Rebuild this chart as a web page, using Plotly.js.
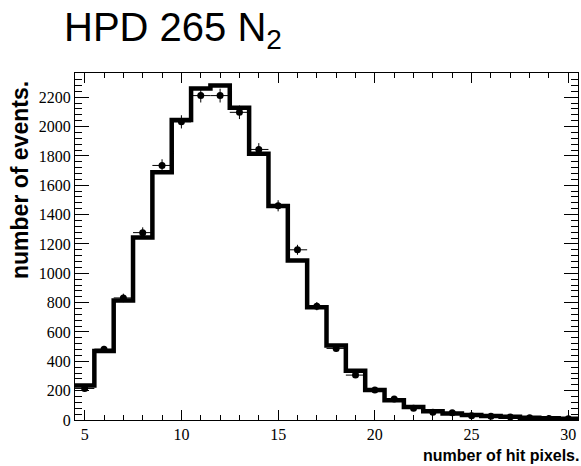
<!DOCTYPE html>
<html>
<head>
<meta charset="utf-8">
<script src="https://cdn.plot.ly/plotly-3.0.1.min.js"></script>
<style>html,body{margin:0;padding:0;background:#fff;}#chart{width:581px;height:466px;}</style>
</head>
<body>
<div id="chart"></div>
<script>
// Number of hit pixels (bin centres)
const hitPixels = [5,6,7,8,9,10,11,12,13,14,15,16,17,18,19,20,21,22,23,24,25,26,27,28,29,30];
// Simulated histogram (thick step line)
const simCounts = [235,470,815,1243,1688,2044,2260,2280,2128,1814,1458,1087,768,508,336,204,134,89,60,44,34,28,22,16,12,9];
// Measured data points
const dataCounts = [215,483,832,1277,1735,2032,2211,2211,2097,1844,1460,1160,776,488,306,204,143,80,52,49,29,26,21,15,10,8];
// Vertical error bars of the data points
const dataErrors = [15,22,29,36,42,45,47,47,46,43,38,34,28,22,18,14,12,9,7,7,5,5,5,4,3,3];

const yTickVals = [0,200,400,600,800,1000,1200,1400,1600,1800,2000,2200];
const xTickVals = [5,10,15,20,25,30];

// step-line edges built from the bin centres
const stepX = hitPixels.map(v => v - 0.5).concat([hitPixels[hitPixels.length-1] + 0.5]);
const stepY = simCounts.concat([simCounts[simCounts.length-1]]);

const traces = [
  {
    x: stepX, y: stepY, type: 'scatter', mode: 'lines',
    line: {shape: 'hv', color: '#000', width: 4.5},
    hoverinfo: 'skip', showlegend: false
  },
  {
    x: hitPixels, y: dataCounts, type: 'scatter', mode: 'markers',
    marker: {color: '#000', size: 7},
    error_y: {type: 'data', array: dataErrors, visible: true, color: '#000', thickness: 1, width: 0},
    error_x: {type: 'constant', value: 0.5, visible: true, color: '#000', thickness: 1, width: 0},
    showlegend: false
  }
];

const SERIF = 'Liberation Serif, Times New Roman, DejaVu Serif, serif';
const SANS = 'Arial, Liberation Sans, sans-serif';

const layout = {
  width: 581, height: 466,
  margin: {l: 75, r: 3, t: 73, b: 46},
  paper_bgcolor: '#fff', plot_bgcolor: '#fff',
  font: {family: SERIF, size: 16, color: '#000'},
  title: {
    text: 'HPD 265 N<sub>2</sub>',
    font: {family: SANS, size: 40, color: '#000'},
    xref: 'container', x: 64/581, xanchor: 'left',
    yref: 'container', y: 1 - 27/466, yanchor: 'middle'
  },
  xaxis: {
    range: [4.5, 30.5], showgrid: false, zeroline: false,
    showline: true, linecolor: '#000', linewidth: 1, mirror: 'allticks',
    ticks: 'inside', ticklen: 10, tickwidth: 1, tickcolor: '#000',
    tickvals: xTickVals, ticktext: xTickVals.map(String),
    tickfont: {family: SERIF, size: 16, color: '#000'},
    minor: {dtick: 1, tick0: 0, ticks: 'inside', ticklen: 5, tickwidth: 1, tickcolor: '#000', showgrid: false}
  },
  yaxis: {
    range: [0, 2365], showgrid: false, zeroline: false,
    showline: true, linecolor: '#000', linewidth: 1, mirror: 'allticks',
    ticks: 'inside', ticklen: 14, tickwidth: 1, tickcolor: '#000',
    tickvals: yTickVals, ticktext: yTickVals.map(String),
    tickfont: {family: SERIF, size: 16, color: '#000'},
    minor: {dtick: 40, tick0: 0, ticks: 'inside', ticklen: 7, tickwidth: 1, tickcolor: '#000', showgrid: false}
  },
  annotations: [
    {
      text: '<b>number of events.</b>', textangle: -90,
      xref: 'paper', yref: 'paper', x: (20-75)/503, y: (420-180)/347,
      xanchor: 'center', yanchor: 'middle', showarrow: false,
      font: {family: SANS, size: 23, color: '#000'}
    },
    {
      text: '<b>number of hit pixels.</b>',
      xref: 'paper', yref: 'paper', x: (581-75)/503, y: (420-455)/347,
      xanchor: 'right', yanchor: 'middle', showarrow: false,
      font: {family: SANS, size: 16, color: '#000'}
    }
  ]
};

Plotly.newPlot('chart', traces, layout, {displayModeBar: false, staticPlot: true});
</script>
</body>
</html>
